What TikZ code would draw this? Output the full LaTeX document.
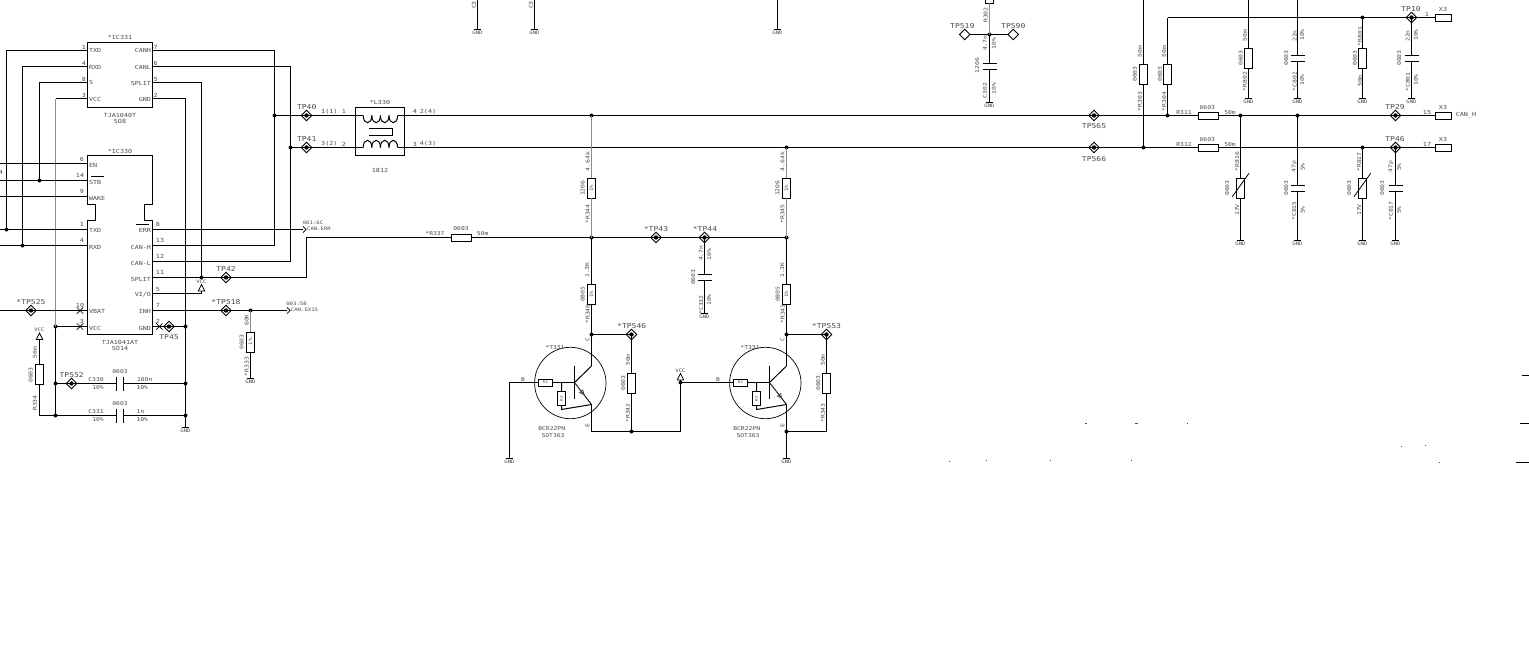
\documentclass[tikz,border=0pt]{standalone}
\usepackage{fontspec}
\usetikzlibrary{arrows.meta,shapes.geometric,calc}
\newfontfamily\schfont[FakeStretch=1.2]{DejaVu Sans Mono}
\newcounter{lb}
\tikzset{
  wire/.style={line width=1pt,black},
  graywire/.style={line width=1.3pt,black!45},
  part/.style={draw,line width=1pt,inner sep=0pt,outer sep=0pt},
  resv/.style={part,rectangle,minimum width=7.5pt,minimum height=20pt},
  resh/.style={part,rectangle,minimum width=20pt,minimum height=7pt},
  capv/.style={rectangle,inner sep=0pt,outer sep=0pt,minimum width=14pt,minimum height=6pt},
  caph/.style={rectangle,inner sep=0pt,outer sep=0pt,minimum width=7pt,minimum height=14pt},
  tpd/.style={part,diamond,minimum width=10.5pt,minimum height=10.5pt,line width=0.8pt,
    path picture={\fill[black] (path picture bounding box.center) circle (2.2pt);}},
  tpo/.style={part,diamond,minimum width=10.5pt,minimum height=10.5pt,line width=0.8pt,fill=white},
  conn/.style={part,rectangle,minimum width=16pt,minimum height=7pt},
  lb/.style={inner sep=0pt,outer sep=0pt,text=black!70},
  tx/.style={lb,font=\schfont\fontsize{6.7}{7}\selectfont},
  px/.style={lb,font=\schfont\fontsize{5.6}{6}\selectfont},
  sx/.style={lb,font=\schfont\fontsize{5.3}{6}\selectfont},
  gx/.style={lb,font=\schfont\fontsize{4.7}{5}\selectfont},
  ux/.style={lb,font=\schfont\fontsize{3.6}{4}\selectfont},
}
\newcommand\lab[4][]{\stepcounter{lb}\node[#1] (lbl\arabic{lb}) at (#2,#3) {#4};}
\newcommand\BigT[3]{\lab[tx]{#1}{#2}{#3}}
\newcommand\PinT[3]{\lab[px]{#1}{#2}{#3}}
\newcommand\PinL[3]{\lab[px,anchor=west]{#1}{#2}{#3}}
\newcommand\PinR[3]{\lab[px,anchor=east]{#1}{#2}{#3}}
\newcommand\SmT[3]{\lab[sx]{#1}{#2}{#3}}
\newcommand\RotS[3]{\lab[sx,rotate=90]{#1}{#2}{#3}}
\newcommand\Jn[3]{\coordinate (#1) at (#2,#3);\fill[black] (#1) circle (2pt);}
\newcommand\GndS[3]{\coordinate (#1) at (#2,#3);\draw[wire] (#2-3.6,#3) -- (#2+3.6,#3);\lab[gx]{#2}{#3+3.4}{GND}}
\newcommand\VccS[3]{\coordinate (#1) at (#2,#3);\draw[line width=0.8pt] (#2-3.2,#3) -- (#2,#3-6.5) -- (#2+3.2,#3) -- cycle;\lab[gx]{#2}{#3-9.3}{VCC}}
\newcommand\CapV[3]{\node[capv] (#1) at (#2,#3) {};\draw[wire] (#1.north west) -- (#1.north east);\draw[wire] (#1.south west) -- (#1.south east);}
\newcommand\CapH[3]{\node[caph] (#1) at (#2,#3) {};\draw[wire] (#1.north west) -- (#1.south west);\draw[wire] (#1.north east) -- (#1.south east);}
\newcommand\Xm[2]{\draw[line width=0.7pt] (#1-3.2,#2-3.2) -- (#1+3.2,#2+3.2) (#1-3.2,#2+3.2) -- (#1+3.2,#2-3.2);}
\newcommand\Chev[1]{\draw[line width=0.7pt] ([shift={(0,-3.2)}]#1) -- ([shift={(3.2,0)}]#1) -- ([shift={(0,3.2)}]#1);}
% transistor: #1 prefix, #2 shift, #3 position of arrow tip on the emitter (fraction)
\newcommand\XTR[3]{%
\begin{scope}[xshift=#2pt]
\node[part,circle,minimum size=71.4pt,line width=0.7pt] (#1c) at (570.3,383) {};
\node[part,rectangle,minimum width=14.4pt,minimum height=7pt,line width=0.8pt] (#1r) at (545.5,382.5) {};
\node[part,rectangle,minimum width=7.4pt,minimum height=14pt,line width=0.8pt] (#1s) at (561.5,398.7) {};
\coordinate (#1bar) at (574.5,382.5);
\coordinate (#1rj) at (561.5,382.5);
\coordinate (#1bt) at (574.5,366);
\coordinate (#1bb) at (574.5,399.3);
\coordinate (#1col) at (591.5,366);
\coordinate (#1em) at (591.5,404.5);
\coordinate (#1sb) at (561.5,409.5);
\draw[wire] (#1r) -- (#1rj) -- (#1bar);
\draw[wire] (#1bt) -- (#1bb);
\draw[wire] (#1rj) -- (#1s) -- (#1sb) -- (#1em);
\draw[wire] (#1bar) -- (#1col);
\draw[line width=0.9pt] (#1bar) -- (#1em);
\draw[line width=0.7pt,black!70,-{Latex[open,length=6.5pt,width=5.5pt]}] (#1bar) -- ($(#1bar)!#3!(#1em)$);
\lab[ux]{545.5}{382.5}{R1}
\lab[ux,rotate=90]{561.5}{398.7}{R2}
\SmT{555}{347.7}{*T331}
\SmT{551.7}{428.3}{BCR22PN}
\SmT{553}{435.3}{SOT363}
\lab[sx,rotate=90]{587.5}{340}{C}
\lab[sx,rotate=90]{587.5}{425.5}{E}
\SmT{523}{380}{B}
\end{scope}}
\begin{document}
\begin{tikzpicture}[x=1pt,y=-1pt]
\useasboundingbox (0,0) rectangle (1529,648);
\fill[white] (0,0) rectangle (1529,648);

% ---------- ICs
\node[part,rectangle,minimum width=65pt,minimum height=65pt] (IC331) at (120,75) {};
\draw[wire] (87.5,155.5) coordinate (nw) -- (152.5,155.5) -- (152.5,204.5) -- (144.5,204.5) -- (144.5,220.5) -- (152.5,220.5) -- (152.5,334.5) -- (87.5,334.5) -- (87.5,220.5) -- (95.5,220.5) -- (95.5,204.5) -- (87.5,204.5) -- cycle;

\foreach \n/\y in {atxd/50.5,arxd/66.5,as/82.5,avcc/98.5}{\coordinate (\n) at (87.5,\y);}
\foreach \n/\y in {acanh/50.5,acanl/66.5,asplit/82.5,agnd/98.5}{\coordinate (\n) at (152.5,\y);}
\foreach \n/\y in {ben/163.5,bstb/180.5,bwake/196.5,btxd/229.5,brxd/245.5,bvbat/310.5,bvcc/326.5}{\coordinate (\n) at (87.5,\y);}
\foreach \n/\y in {berr/229.5,bcanh/245.5,bcanl/261.5,bsplit/277.5,bvio/293.5,binh/310.5,bgnd/326.5}{\coordinate (\n) at (152.5,\y);}
\foreach \n/\y in {e0/163.5,e1/180.5,e2/196.5,e3/229.5,e4/245.5,e5/310.5}{\coordinate (\n) at (0,\y);}

% ---------- junctions
\Jn{jtxd}{6.5}{229.5}\Jn{jrxd}{22.5}{245.5}\Jn{jstb}{39.5}{180.5}
\Jn{jvcc}{55.5}{326.5}\Jn{jc330}{55.5}{383.5}\Jn{jc331}{55.5}{415.5}
\Jn{jgnd}{185.5}{326.5}\Jn{jg383}{185.5}{383.5}\Jn{jg415}{185.5}{415.5}
\Jn{jsplit}{201.5}{277.5}\Jn{j250}{250.5}{310.5}
\Jn{jtp40}{274.5}{115.5}\Jn{jtp41}{290.5}{147.5}
\Jn{j591t}{591.5}{115.5}\Jn{j786t}{786.5}{147.5}
\Jn{j591m}{591.5}{237.5}\Jn{j786m}{786.5}{237.5}
\Jn{j591c}{591.5}{334.5}\Jn{j786c}{786.5}{334.5}
\Jn{j632b}{631.5}{431.5}\Jn{j786b}{786.5}{431.5}\Jn{jvccb}{680.5}{382.5}
\Jn{jc302}{989.5}{34.5}
\Jn{j1143}{1143.5}{147.5}\Jn{j1167}{1167.5}{115.5}
\Jn{j1240}{1240.5}{115.5}\Jn{j1297}{1297.5}{115.5}
\Jn{j1362t}{1362.5}{17.5}\Jn{j1362}{1362.5}{147.5}

% ---------- coordinates of corners and free ends
\coordinate (avccc) at (55.5,98.5);
\coordinate (arr1) at (303,229.5);
\coordinate (arr2) at (287,310.5);
\coordinate (c306a) at (306.5,277.5);
\coordinate (c306b) at (306.5,237.5);
\coordinate (c334) at (39.5,415.5);
\coordinate (c540) at (509.5,382.5);
\coordinate (c591b) at (591.5,431.5);
\coordinate (c681) at (680.5,431.5);
\coordinate (c827) at (826.5,431.5);

% ---------- test points
\node[tpd] (TP40) at (306.5,115.5) {};
\node[tpd] (TP41) at (306.5,147.5) {};
\node[tpd] (TP42) at (226,277.5) {};
\node[tpd] (TP45) at (169,326.5) {};
\node[tpd] (TP518) at (226,310.5) {};
\node[tpd] (TP525) at (31,310.5) {};
\node[tpd] (TP552) at (71.5,383.5) {};
\node[tpd] (TP43) at (656,237.5) {};
\node[tpd] (TP44) at (704.5,237.5) {};
\node[tpd] (TP546) at (631.5,334.5) {};
\node[tpd] (TP553) at (826.5,334.5) {};
\node[tpd] (TP565) at (1094,115.5) {};
\node[tpd] (TP566) at (1094,147.5) {};
\node[tpd] (TP10) at (1411.5,17.5) {};
\node[tpd] (TP29) at (1395.5,115.5) {};
\node[tpd] (TP46) at (1395.5,147.5) {};

% ---------- resistors
\node[resv] (R334) at (39.5,374.6) {};
\node[resv] (R333) at (250.5,342.3) {};
\node[resh] (R337) at (461.2,237.5) {};
\node[resv] (R344) at (591.5,188.3) {};
\node[resv] (R345) at (786.5,188.3) {};
\node[resv] (R340) at (591.5,294.3) {};
\node[resv] (R341) at (786.5,294.3) {};
\node[resv] (R342) at (631.5,383) {};
\node[resv] (R343) at (826.5,383) {};
\node[resv] (R302) at (989.5,-6.7) {};
\node[resv] (R303) at (1143.5,74.3) {};
\node[resv] (R304) at (1167.5,74.3) {};
\node[resh] (R311) at (1208.5,115.5) {};
\node[resh] (R312) at (1208.5,147.5) {};
\node[resv] (R802) at (1248.5,58.3) {};
\node[resv] (R801) at (1362.5,58.3) {};
\node[resv] (R816) at (1240.5,188.3) {};
\node[resv] (R817) at (1362.5,188.3) {};
\draw[line width=0.8pt] (1232.3,196.7) -- (1249,173.3);
\draw[line width=0.8pt] (1354,196.7) -- (1370.7,173.3);

% ---------- capacitors
\CapH{C330}{120}{383.5}
\CapH{C331}{120}{415.5}
\CapV{C332}{704.5}{277.5}
\CapV{C302}{989.5}{66.5}
\CapV{C802}{1297.5}{58.5}
\CapV{C801}{1411.5}{58.5}
\CapV{C815}{1297.5}{188.5}
\CapV{C817}{1395.5}{188.5}

% ---------- connectors X3
\node[conn] (X3a) at (1443.5,17.5) {};
\node[conn] (X3b) at (1443.5,115.5) {};
\node[conn] (X3c) at (1443.5,147.5) {};

% ---------- ground and supply symbols
\GndS{g1}{185.5}{427.5}
\GndS{g2}{250.5}{378.5}
\GndS{g3}{509.5}{458.5}
\GndS{g4}{786.5}{458.5}
\GndS{g5}{704.5}{313.5}
\GndS{g6}{989.5}{102.5}
\GndS{g7}{1248.5}{98.5}
\GndS{g8}{1297.5}{98.5}
\GndS{g9}{1362.5}{98.5}
\GndS{g10}{1411.5}{98.5}
\GndS{g11}{1240.5}{240.5}
\GndS{g12}{1297.5}{240.5}
\GndS{g13}{1362.5}{240.5}
\GndS{g14}{1395.5}{240.5}
\GndS{g15}{477.5}{29.5}
\GndS{g16}{534.5}{29.5}
\GndS{g17}{777.5}{29.5}
\VccS{v1}{201.5}{291}
\VccS{v2}{39.5}{339.5}
\VccS{v3}{680.5}{380}

% ---------- wires: left of the ICs
\draw[wire] (atxd) -| (jtxd);
\draw[wire] (arxd) -| (jrxd);
\draw[wire] (as) -| (jstb);
\draw[wire] (avcc) -- (avccc);
\draw[graywire] (avccc) -- (jvcc);
\draw[wire] (jvcc) -- (jc330) -- (jc331);
\draw[wire] (e0) -- (ben);
\draw[wire] (e1) -- (jstb) -- (bstb);
\draw[wire] (e2) -- (bwake);
\draw[wire] (e3) -- (jtxd) -- (btxd);
\draw[wire] (e4) -- (jrxd) -- (brxd);
\draw[wire] (e5) -- (TP525.center) -- (bvbat);
\draw[wire] (jvcc) -- (bvcc);
% wires: right of the ICs
\draw[wire] (acanh) -| (jtp40);
\draw[wire] (bcanh) -| (jtp40);
\draw[wire] (acanl) -| (jtp41);
\draw[wire] (bcanl) -| (jtp41);
\draw[wire] (asplit) -| (jsplit);
\draw[wire] (bsplit) -- (jsplit) -- (TP42.center) -- (c306a) -- (c306b) -- (R337) -- (j591m) -- (TP43.center) -- (TP44.center) -- (j786m);
\draw[wire] (agnd) -| (jgnd);
\draw[wire] (bgnd) -- (TP45.center) -- (jgnd) -- (jg383) -- (jg415) -- (g1);
\draw[wire] (bvio) -| (v1);
\draw[wire] (berr) -- (arr1);
\draw[wire] (binh) -- (TP518.center) -- (j250) -- (arr2);
\Chev{arr1}\Chev{arr2}
\draw[graywire] (j250) -- (R333);
\draw[wire] (R333) -- (g2);
\draw[wire] (jc330) -- (TP552.center) -- (C330.west);
\draw[wire] (C330.east) -- (jg383);
\draw[wire] (jc331) -- (C331.west);
\draw[wire] (C331.east) -- (jg415);
\draw[wire] (v2) -- (R334) -- (c334) -- (jc331);
\Xm{80}{310.5}\Xm{80}{326.5}\Xm{159.3}{326.5}

% ---------- common-mode choke
\node[part,rectangle,minimum width=49pt,minimum height=48pt] (L330) at (380,131.5) {};
\coordinate (cu1) at (363.2,115.5); \coordinate (cu2) at (397.6,115.5);
\coordinate (cl1) at (363.2,147.5); \coordinate (cl2) at (397.6,147.5);
\foreach \i in {0,1,2,3}{
  \draw[wire] ($(cu1)+(\i*8.6,0)$) .. controls ($(cu1)+(\i*8.6,9.6)$) and ($(cu1)+(\i*8.6+8.6,9.6)$) .. ($(cu1)+(\i*8.6+8.6,0)$);
  \draw[wire] ($(cl1)+(\i*8.6,0)$) .. controls ($(cl1)+(\i*8.6,-9.6)$) and ($(cl1)+(\i*8.6+8.6,-9.6)$) .. ($(cl1)+(\i*8.6+8.6,0)$);
}
\draw[wire] (369,128.5) -- (392.5,128.5) -- (392.5,135.5) -- (369,135.5);
\draw[wire] (jtp40) -- (TP40.center) -- (cu1);
\draw[wire] (jtp41) -- (TP41.center) -- (cl1);
% main bus
\draw[wire] (cu2) -- (j591t) -- (TP565.center) -- (j1167) -- (R311) -- (j1240) -- (j1297) -- (TP29.center) -- (X3b);
\draw[wire] (cl2) -- (j786t) -- (TP566.center) -- (j1143) -- (R312);
\draw[wire] (R312) -- (j1362) -- (TP46.center) -- (X3c);

% ---------- middle branch
\draw[graywire] (j591t) -- (R344);
\draw[graywire] (R344) -- (j591m);
\draw[graywire] (j786t) -- (R345);
\draw[graywire] (R345) -- (j786m);
\draw[wire] (j591m) -- (R340) -- (j591c);
\draw[wire] (j786m) -- (R341) -- (j786c);
\draw[wire] (TP44.center) -- (C332.north);
\draw[wire] (C332.south) -- (g5);

% ---------- transistors
\XTR{ta}{0}{0.62}
\XTR{tb}{195}{0.78}
\draw[wire] (j591c) -- (TP546.center);
\draw[wire] (TP546.center) -- (R342) -- (j632b);
\draw[wire] (j591c) -- (tacol);
\draw[wire] (taem) -- (c591b) -- (j632b) -- (c681) -- (jvccb);
\draw[wire] (jvccb) -- (v3);
\draw[wire] (g3) -- (c540) -- (tar);
\draw[wire] (jvccb) -- (tbr);
\draw[wire] (j786c) -- (TP553.center) -- (R343) -- (c827) -- (j786b);
\draw[wire] (j786c) -- (tbcol);
\draw[wire] (tbem) -- (j786b) -- (g4);

% ---------- top centre
\coordinate (t1) at (477.5,0);\coordinate (t2) at (534.5,0);\coordinate (t3) at (777.5,0);
\draw[wire] (t1) -- (g15);\draw[wire] (t2) -- (g16);\draw[wire] (t3) -- (g17);
\node[tpo] (TP519) at (964.7,34.5) {};
\node[tpo] (TP590) at (1013.3,34.5) {};
\draw[wire] (TP519) -- (jc302) -- (TP590);
\draw[graywire] (R302) -- (jc302);
\draw[wire] (jc302) -- (C302.north);
\draw[wire] (C302.south) -- (g6);

% ---------- right block
\coordinate (t4) at (1143.5,0);\coordinate (t5) at (1248.5,0);\coordinate (t6) at (1297.5,0);
\coordinate (c1167) at (1167.5,17.5);
\draw[wire] (t4) -- (R303) -- (j1143);
\draw[wire] (c1167) -- (R304) -- (j1167);
\draw[wire] (c1167) -- (j1362t) -- (TP10.center) -- (X3a);
\draw[wire] (t5) -- (R802) -- (g7);
\draw[wire] (t6) -- (C802.north);
\draw[wire] (C802.south) -- (g8);
\draw[wire] (j1362t) -- (R801) -- (g9);
\draw[wire] (TP10.center) -- (C801.north);
\draw[wire] (C801.south) -- (g10);
\draw[wire] (j1240) -- (R816) -- (g11);
\draw[wire] (j1297) -- (C815.north);
\draw[wire] (C815.south) -- (g12);
\draw[wire] (j1362) -- (R817) -- (g13);
\draw[wire] (TP46.center) -- (C817.north);
\draw[wire] (C817.south) -- (g14);

% ---------- stray marks at the right
\coordinate (s1) at (1521.5,375.5);\coordinate (s1e) at (1529,375.5);
\coordinate (s2) at (1519.5,423.5);\coordinate (s2e) at (1529,423.5);
\coordinate (s3) at (1515.5,462.5);\coordinate (s3e) at (1529,462.5);
\draw[wire] (s1) -- (s1e);\draw[wire] (s2) -- (s2e);\draw[wire] (s3) -- (s3e);
\foreach \x/\y/\w in {1085/423/1.6,1135/423/2.5,1187/423/1,948.5/461/1,986/460/.8,1050/460/.8,1131/460/.8,1439/461.5/.8,1401/446/.6,1425/445/.6}{
  \fill[black!70] (\x,\y) rectangle (\x+\w,\y+.9);}

% ---------- text: IC331
\PinT{120}{37.3}{*IC331}\PinT{120}{115.7}{TJA1040T}\PinT{120}{121.7}{SO8}
\PinT{84}{47.3}{1}\PinT{84}{63.3}{4}\PinT{84}{79.5}{8}\PinT{84}{95.5}{3}
\PinT{155.7}{47.3}{7}\PinT{155.7}{63.3}{6}\PinT{155.7}{79.5}{5}\PinT{155.7}{95.5}{2}
\PinL{89}{50.3}{TXD}\PinL{89}{67}{RXD}\PinL{89}{82.7}{S}\PinL{89}{99}{VCC}
\PinR{151}{50.3}{CANH}\PinR{151}{67}{CANL}\PinR{151}{83}{SPLIT}\PinR{151}{99}{GND}
% IC330
\PinT{120}{151.7}{*IC330}\PinT{120}{342}{TJA1041AT}\PinT{120}{348.7}{SO14}
\PinT{82}{159.3}{6}\PinT{80}{175.3}{14}\PinT{82}{191.7}{9}\PinT{82}{224.5}{1}\PinT{82}{240.5}{4}\PinT{80}{305}{10}\PinT{82}{321}{3}
\PinT{1}{172}{4}
\PinL{89}{165}{EN}\PinL{89}{182}{STB}\PinL{89}{198}{WAKE}\PinL{89}{230.5}{TXD}\PinL{89}{247}{RXD}\PinL{89}{311}{VBAT}\PinL{89}{328}{VCC}
\draw[line width=0.7pt] (91,176.5) -- (103.7,176.5);
\draw[line width=0.7pt] (136,224.5) -- (149,224.5);
\PinR{151}{230.5}{ERR}\PinR{151}{247}{CAN-H}\PinR{151}{263}{CAN-L}\PinR{151}{279.5}{SPLIT}\PinR{151}{295}{VI/O}\PinR{151}{311}{INH}\PinR{151}{328}{GND}
\PinT{158}{224.5}{8}\PinT{160}{240.5}{13}\PinT{160}{256.5}{12}\PinT{160}{272.5}{11}\PinT{158}{289}{5}\PinT{158}{305}{7}\PinT{158}{321}{2}
% test point names
\BigT{306.7}{107}{TP40}\BigT{306.7}{139}{TP41}\BigT{226}{269}{TP42}\BigT{169}{337.3}{TP45}
\BigT{226}{302}{*TP518}\BigT{31}{302}{*TP525}\BigT{71.7}{375}{TP552}
\BigT{656}{229}{*TP43}\BigT{705}{229}{*TP44}\BigT{631.7}{326.3}{*TP546}\BigT{826.5}{326.3}{*TP553}
\BigT{962.3}{26}{TP519}\BigT{1013.3}{26}{TP590}\BigT{1094}{126}{TP565}\BigT{1094}{159}{TP566}
\BigT{1411}{9}{TP10}\BigT{1395}{107}{TP29}\BigT{1395}{139.3}{TP46}
% lower-left parts
\SmT{96}{380}{C330}\SmT{98}{388}{10\%}\SmT{120}{372}{0603}\SmT{144.7}{380}{100n}\SmT{142.3}{388}{10\%}
\SmT{96}{412}{C331}\SmT{98}{420}{10\%}\SmT{120}{404}{0603}\SmT{140.5}{412}{1n}\SmT{142.3}{420}{10\%}
\RotS{35}{352.7}{50m}\RotS{30.7}{375}{0603}\RotS{35}{403}{R334}
\RotS{246.7}{320}{60K}\lab[gx,rotate=90]{250.5}{341.7}{1\%}\RotS{241.7}{342}{0603}\RotS{246.7}{366.7}{*R333}
\lab[gx]{313}{222.7}{001:6C}\lab[gx]{319}{229}{CAN.ERR}
\lab[gx]{296.5}{303.3}{003:5B}\lab[gx]{304.5}{310}{CAN.EX15}
% choke
\PinT{380}{102}{*L330}\PinT{380}{170.3}{1812}
\PinT{329.3}{111.7}{1(1)}\PinT{344}{111.7}{1}\PinT{329.3}{144}{3(2)}\PinT{344}{144}{2}
\PinT{415}{111.7}{4}\PinT{428}{111.7}{2(4)}\PinT{415}{144}{3}\PinT{428}{144}{4(3)}
\SmT{435}{234}{*R337}\SmT{461}{229}{0603}\SmT{482.7}{234}{50m}
% middle parts
\RotS{587.7}{161.7}{4.64k}\RotS{582.7}{188.3}{1206}\lab[gx,rotate=90]{591.5}{188.3}{1\%}\RotS{587.7}{214}{*R344}
\RotS{782.5}{161.7}{4.64k}\RotS{777.5}{188.3}{1206}\lab[gx,rotate=90]{786.5}{188.3}{1\%}\RotS{782.5}{214}{*R345}
\RotS{587.3}{270}{1.3K}\RotS{582.7}{294.3}{0805}\lab[gx,rotate=90]{591.5}{294.3}{1\%}\RotS{587.7}{314}{*R340}
\RotS{782.3}{270}{1.3K}\RotS{777.7}{294.3}{0805}\lab[gx,rotate=90]{786.5}{294.3}{1\%}\RotS{782.7}{314}{*R341}
\RotS{628}{360}{50m}\RotS{623.3}{383}{0603}\RotS{628}{413}{*R342}
\RotS{823}{360}{50m}\RotS{818.3}{383}{0603}\RotS{823}{413}{*R343}
\RotS{701}{253.3}{4.7n}\RotS{709.3}{254.3}{10\%}\RotS{693.3}{277.3}{0603}\RotS{701.3}{305}{*C332}\RotS{709.3}{300}{10\%}
% top parts
\RotS{474}{5}{C3}\RotS{531}{5}{C3}
\RotS{985.7}{15}{R302}\RotS{985}{43.3}{4.7n}\RotS{994}{43.5}{10\%}\RotS{977.3}{65.7}{1206}\RotS{985}{90.7}{C302}\RotS{994}{88.3}{10\%}
\RotS{1140}{51.7}{50m}\RotS{1135}{74}{0603}\RotS{1140}{101.7}{*R303}
\RotS{1164.3}{51.7}{50m}\RotS{1160}{74}{0603}\RotS{1164.3}{101.7}{*R304}
\SmT{1184}{112.3}{R311}\SmT{1184}{144.3}{R312}\SmT{1207.3}{108}{0603}\SmT{1207.3}{140}{0603}\SmT{1230}{112.3}{50m}\SmT{1230}{144.3}{50m}
\RotS{1245}{35.7}{50m}\RotS{1240.7}{58}{0603}\RotS{1245}{81.7}{*R802}
\RotS{1294.7}{36}{22n}\RotS{1302.3}{35}{10\%}\RotS{1286.3}{58}{0603}\RotS{1294.7}{81.7}{*C802}\RotS{1302.3}{80}{10\%}
\RotS{1360}{36.7}{*R801}\RotS{1355}{58}{0603}\RotS{1360}{81}{50m}
\RotS{1407.7}{36}{22n}\RotS{1416}{35}{10\%}\RotS{1399.3}{58}{0603}\RotS{1408}{82}{*C801}\RotS{1416}{80}{10\%}
\RotS{1237.3}{161.7}{*R816}\RotS{1227.3}{188}{0603}\RotS{1237.3}{210}{17V}
\RotS{1294.3}{166.7}{47p}\RotS{1302.7}{167}{5\%}\RotS{1286.3}{188}{0603}\RotS{1294.3}{211}{*C815}\RotS{1302.7}{210}{5\%}
\RotS{1359.3}{162}{*R817}\RotS{1349.3}{188}{0603}\RotS{1359.3}{210}{17V}
\RotS{1391}{166.7}{47p}\RotS{1399.3}{167}{5\%}\RotS{1382.3}{188}{0603}\RotS{1391}{211}{*C817}\RotS{1399.3}{210}{5\%}
% connector labels
\PinT{1443}{9.5}{X3}\PinT{1443}{107}{X3}\PinT{1443}{139.5}{X3}
\PinT{1427}{14}{1}\PinT{1427}{112}{15}\PinT{1427}{144}{17}
\PinT{1466}{115}{CAN\_H}
\end{tikzpicture}
\end{document}
